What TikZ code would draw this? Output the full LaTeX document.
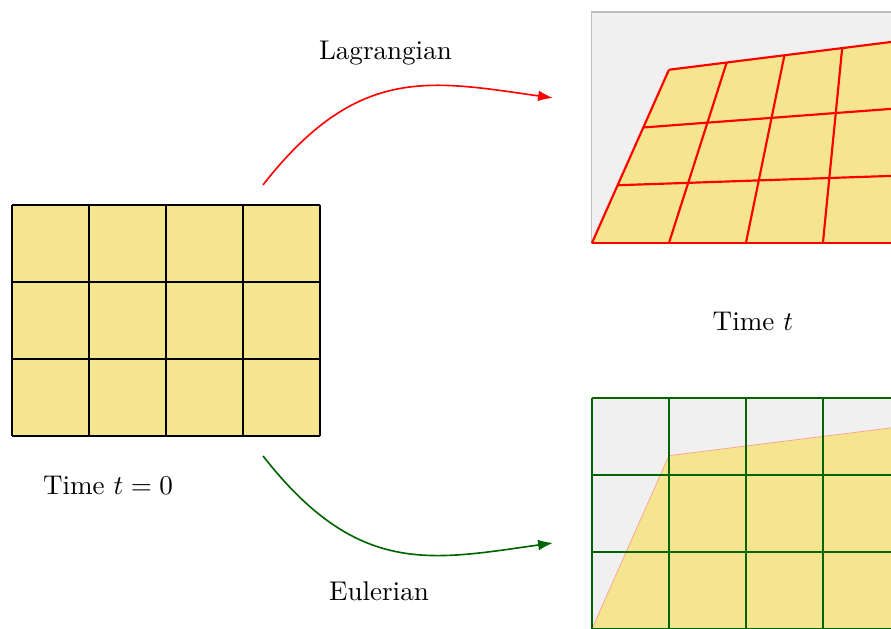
\documentclass[tikz,border=0pt]{standalone}
\usetikzlibrary{arrows.meta}
\definecolor{cellyellow}{RGB}{245,229,143}
\definecolor{eulergreen}{RGB}{0,100,0}
\definecolor{panelgray}{RGB}{240,240,240}
\definecolor{panelrim}{RGB}{190,190,190}
\begin{document}
\begin{tikzpicture}[
        refgrid/.style={thick, black},
        laggrid/.style={thick, red, line join=round},
        eulgrid/.style={thick, eulergreen},
        flow/.style={semithick, -{Latex[length=5.5pt,width=4pt]}},
        caption/.style={anchor=base}
    ]
        \useasboundingbox (-0.156,-2.506) rectangle (11.416,5.662);
        % grid at t = 0
        \fill [cellyellow] (0,0) rectangle (4,3);
        \draw [refgrid] (0,0) grid (4,3);
        % lagrangian panel
        \fill [panelgray, draw=panelrim, thin] (7.532,2.506) rectangle (11.532,5.506);
        \begin{scope}[shift={(7.532,2.506)}]
            \fill [cellyellow] (0,0) -- (4,0) -- (4,2.625) -- (3.25,2.531) -- (2.5,2.438) -- (1.75,2.344) -- (1,2.25) -- cycle;
            % rows
            \draw [laggrid] (0,0) -- (1,0) -- (2,0) -- (3,0) -- (4,0);
            \draw [laggrid] (0.333,0.75) -- (1.25,0.781) -- (2.167,0.813) -- (3.083,0.844) -- (4,0.875);
            \draw [laggrid] (0.667,1.5) -- (1.5,1.563) -- (2.333,1.625) -- (3.167,1.688) -- (4,1.75);
            \draw [laggrid] (1,2.25) -- (1.75,2.344) -- (2.5,2.438) -- (3.25,2.531) -- (4,2.625);
            % columns
            \draw [laggrid] (0,0) -- (0.333,0.75) -- (0.667,1.5) -- (1,2.25);
            \draw [laggrid] (1,0) -- (1.25,0.781) -- (1.5,1.563) -- (1.75,2.344);
            \draw [laggrid] (2,0) -- (2.167,0.813) -- (2.333,1.625) -- (2.5,2.438);
            \draw [laggrid] (3,0) -- (3.083,0.844) -- (3.167,1.688) -- (3.25,2.531);
            \draw [laggrid] (4,0) -- (4,0.875) -- (4,1.75) -- (4,2.625);
        \end{scope}
        % eulerian panel
        \begin{scope}[shift={(7.532,-2.506)}]
            \fill [panelgray] (0,0) rectangle (4,3);
            \filldraw [fill=cellyellow, draw=red!45, very thin] (0,0) -- (4,0) -- (4,2.625) -- (3.25,2.531) -- (2.5,2.438) -- (1.75,2.344) -- (1,2.25) -- cycle;
            \draw [eulgrid] (0,0) grid (4,3);
        \end{scope}
        % arrows
        \coordinate (lagFrom) at (3.26,3.26);
        \coordinate (lagTo) at (7.026,4.39);
        \coordinate (eulFrom) at (3.26,-0.26);
        \coordinate (eulTo) at (7.026,-1.39);
        \draw [flow, red] (lagFrom) .. controls +(52:2) and +(172:1.6) .. (lagTo);
        \draw [flow, eulergreen] (eulFrom) .. controls +(-52:2) and +(188:1.6) .. (eulTo);
        % lecter
        \node [caption] (lagLabel) at (4.85,4.883) {Lagrangian};
        \node [caption] (eulLabel) at (4.766,-2.143) {Eulerian};
        \node [caption] (timeNow) at (9.623,1.364) {Time $t$};
        \node [caption] (timeZero) at (1.247,-0.766) {Time $t=0$};
    \end{tikzpicture}
\end{document}
